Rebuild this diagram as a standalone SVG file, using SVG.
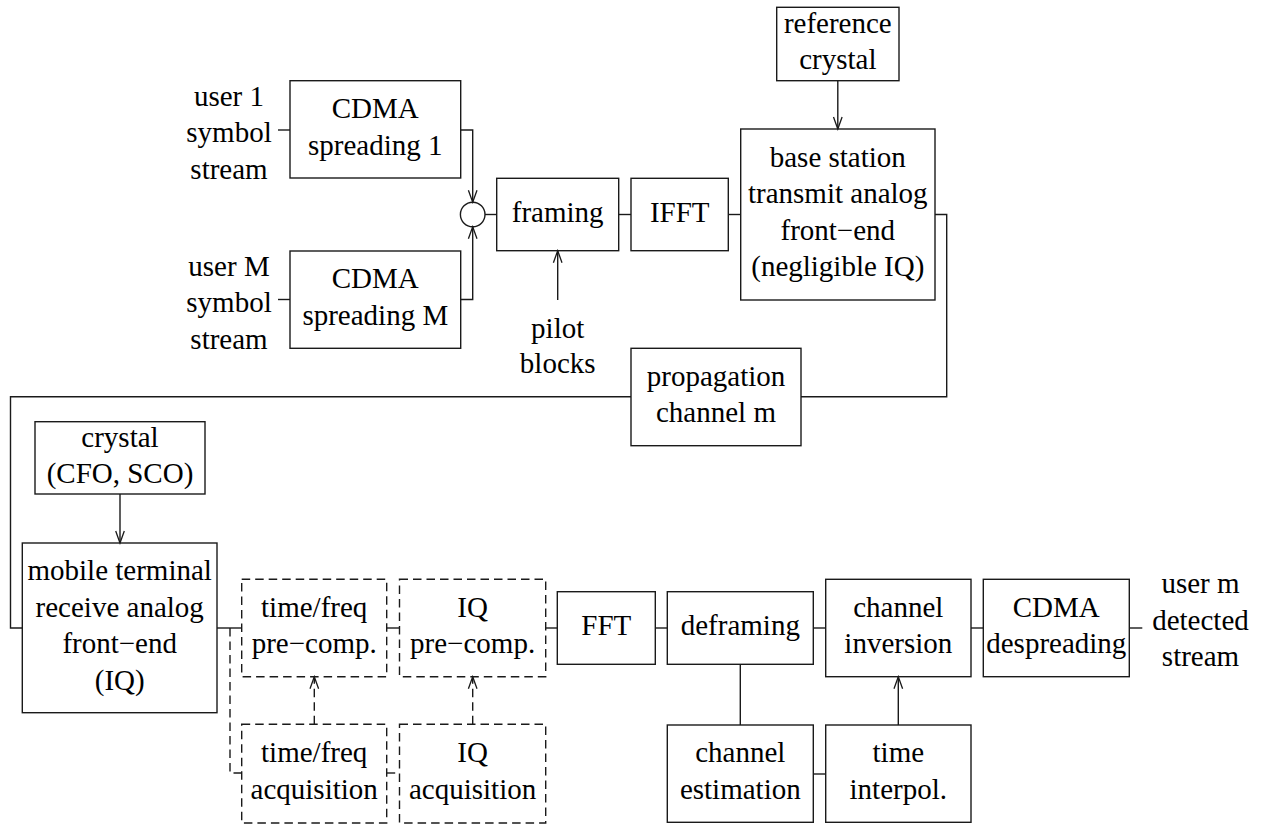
<svg xmlns="http://www.w3.org/2000/svg" width="1263" height="824" viewBox="0 0 1263 824">
<style>
.b{fill:none;stroke:#1a1a1a;stroke-width:1.4}
.d{fill:none;stroke:#1a1a1a;stroke-width:1.4;stroke-dasharray:8.5 5}
.c{fill:none;stroke:#1a1a1a;stroke-width:1.4}
.cd{fill:none;stroke:#1a1a1a;stroke-width:1.4;stroke-dasharray:8.5 5}
.a{marker-end:url(#arr)}
text{font-family:"Liberation Serif","Times New Roman",serif;font-size:29px;fill:#000;text-anchor:middle}
</style>
<defs>
<marker id="arr" viewBox="-13 -6 15 12" refX="0" refY="0" markerWidth="15" markerHeight="12" markerUnits="userSpaceOnUse" orient="auto">
<path d="M-12,-4.3 L0,0 L-12,4.3" fill="none" stroke="#1a1a1a" stroke-width="1.3"/>
</marker>
</defs>
<rect width="1263" height="824" fill="#fff"/>
<g id="connectors">
<path class="c" d="M278,130 H290"/>
<path class="c" d="M278,299.5 H290"/>
<path class="c a" d="M460.7,130 H472.7 V202.2"/>
<path class="c a" d="M460.7,299.5 H472.7 V226.8"/>
<path class="c" d="M485,214.5 H496.7"/>
<path class="c" d="M618.7,214.5 H631"/>
<path class="c" d="M728.3,214.5 H740.7"/>
<path class="c a" d="M557.7,300 V250.7"/>
<path class="c a" d="M837.8,80.7 V129"/>
<path class="c" d="M935,214.5 H946.7 V396.7 H801"/>
<path class="c" d="M631,396.7 H10.5 V628 H22.3"/>
<path class="c a" d="M120,494 V543"/>
<path class="c" d="M217,628 H241.7"/>
<path class="c" d="M386.7,628 H399.5"/>
<path class="c" d="M545.7,628 H557.3"/>
<path class="cd" d="M230,628 V773 H241.7"/>
<path class="cd" d="M386.7,773 H399.5"/>
<path class="cd a" d="M314.3,724.3 V676.7"/>
<path class="cd a" d="M472.7,724.3 V676.7"/>
<path class="c" d="M655.3,628 H667.3"/>
<path class="c" d="M813.3,628 H825.7"/>
<path class="c" d="M971,628 H983.3"/>
<path class="c" d="M1129.3,628 H1142.3"/>
<path class="c" d="M740.3,664.3 V725"/>
<path class="c" d="M813.3,774 H825.7"/>
<path class="c a" d="M898.3,725 V676.7"/>
</g>
<g id="label-user1">
<text x="229" y="105.5">user 1</text>
<text x="229" y="142">symbol</text>
<text x="229" y="178.5">stream</text>
</g>
<g id="label-userM">
<text x="229" y="275.5">user M</text>
<text x="229" y="312">symbol</text>
<text x="229" y="348.5">stream</text>
</g>
<g id="cdma1">
<rect class="b" x="290" y="80.7" width="170.7" height="97.3"/>
<text x="375.3" y="118">CDMA</text>
<text x="375.3" y="154.5">spreading 1</text>
</g>
<g id="cdmaM">
<rect class="b" x="290" y="251" width="170.7" height="97.3"/>
<text x="375.3" y="288.4">CDMA</text>
<text x="375.3" y="324.9">spreading M</text>
</g>
<g id="sum">
<circle class="b" cx="472.7" cy="214.5" r="12.3"/>
</g>
<g id="framing">
<rect class="b" x="496.7" y="178.3" width="122" height="72.4"/>
<text x="557.7" y="221.5">framing</text>
</g>
<g id="ifft">
<rect class="b" x="631" y="178.3" width="97.3" height="72.4"/>
<text x="679.7" y="221.5">IFFT</text>
</g>
<g id="label-pilot">
<text x="557.7" y="337.5">pilot</text>
<text x="557.7" y="373">blocks</text>
</g>
<g id="refcrystal">
<rect class="b" x="776.7" y="7.3" width="122.3" height="73.4"/>
<text x="837.8" y="32.8">reference</text>
<text x="837.8" y="69.3">crystal</text>
</g>
<g id="basestation">
<rect class="b" x="740.7" y="129" width="194.3" height="171"/>
<text x="837.8" y="166.8">base station</text>
<text x="837.8" y="203.3">transmit analog</text>
<text x="837.8" y="239.8">front−end</text>
<text x="837.8" y="276.3">(negligible IQ)</text>
</g>
<g id="propagation">
<rect class="b" x="631" y="348.3" width="170" height="97.4"/>
<text x="716" y="385.8">propagation</text>
<text x="716" y="422.3">channel m</text>
</g>
<g id="crystal">
<rect class="b" x="35" y="421.7" width="170" height="72.3"/>
<text x="120" y="446.6">crystal</text>
<text x="120" y="483.1">(CFO, SCO)</text>
</g>
<g id="mobile">
<rect class="b" x="22.3" y="543" width="194.7" height="169.7"/>
<text x="119.7" y="580.1">mobile terminal</text>
<text x="119.7" y="616.6">receive analog</text>
<text x="119.7" y="653.1">front−end</text>
<text x="119.7" y="689.6">(IQ)</text>
</g>
<g id="tfprecomp">
<rect class="d" x="241.7" y="579.3" width="145" height="97.4"/>
<text x="314.2" y="616.8">time/freq</text>
<text x="314.2" y="653.3">pre−comp.</text>
</g>
<g id="iqprecomp">
<rect class="d" x="399.5" y="579.3" width="146.2" height="97.4"/>
<text x="472.6" y="616.8">IQ</text>
<text x="472.6" y="653.3">pre−comp.</text>
</g>
<g id="tfacq">
<rect class="d" x="241.7" y="724.3" width="145" height="98.7"/>
<text x="314.2" y="762.4">time/freq</text>
<text x="314.2" y="798.9">acquisition</text>
</g>
<g id="iqacq">
<rect class="d" x="399.5" y="724.3" width="146.2" height="98.7"/>
<text x="472.6" y="762.4">IQ</text>
<text x="472.6" y="798.9">acquisition</text>
</g>
<g id="fft">
<rect class="b" x="557.3" y="591.7" width="98" height="72.6"/>
<text x="606.3" y="635">FFT</text>
</g>
<g id="deframing">
<rect class="b" x="667.3" y="591.7" width="146" height="72.6"/>
<text x="740.3" y="635">deframing</text>
</g>
<g id="chinv">
<rect class="b" x="825.7" y="579.3" width="145.3" height="97.4"/>
<text x="898.3" y="616.8">channel</text>
<text x="898.3" y="653.3">inversion</text>
</g>
<g id="cdmadesp">
<rect class="b" x="983.3" y="579.3" width="146" height="97.4"/>
<text x="1056.3" y="616.8">CDMA</text>
<text x="1056.3" y="653.3">despreading</text>
</g>
<g id="label-userm">
<text x="1200.5" y="593.3">user m</text>
<text x="1200.5" y="629.8">detected</text>
<text x="1200.5" y="666.3">stream</text>
</g>
<g id="chest">
<rect class="b" x="667.3" y="725" width="146" height="97.3"/>
<text x="740.3" y="762.4">channel</text>
<text x="740.3" y="798.9">estimation</text>
</g>
<g id="timeinterp">
<rect class="b" x="825.7" y="725" width="145.3" height="97.3"/>
<text x="898.3" y="762.4">time</text>
<text x="898.3" y="798.9">interpol.</text>
</g>
</svg>
